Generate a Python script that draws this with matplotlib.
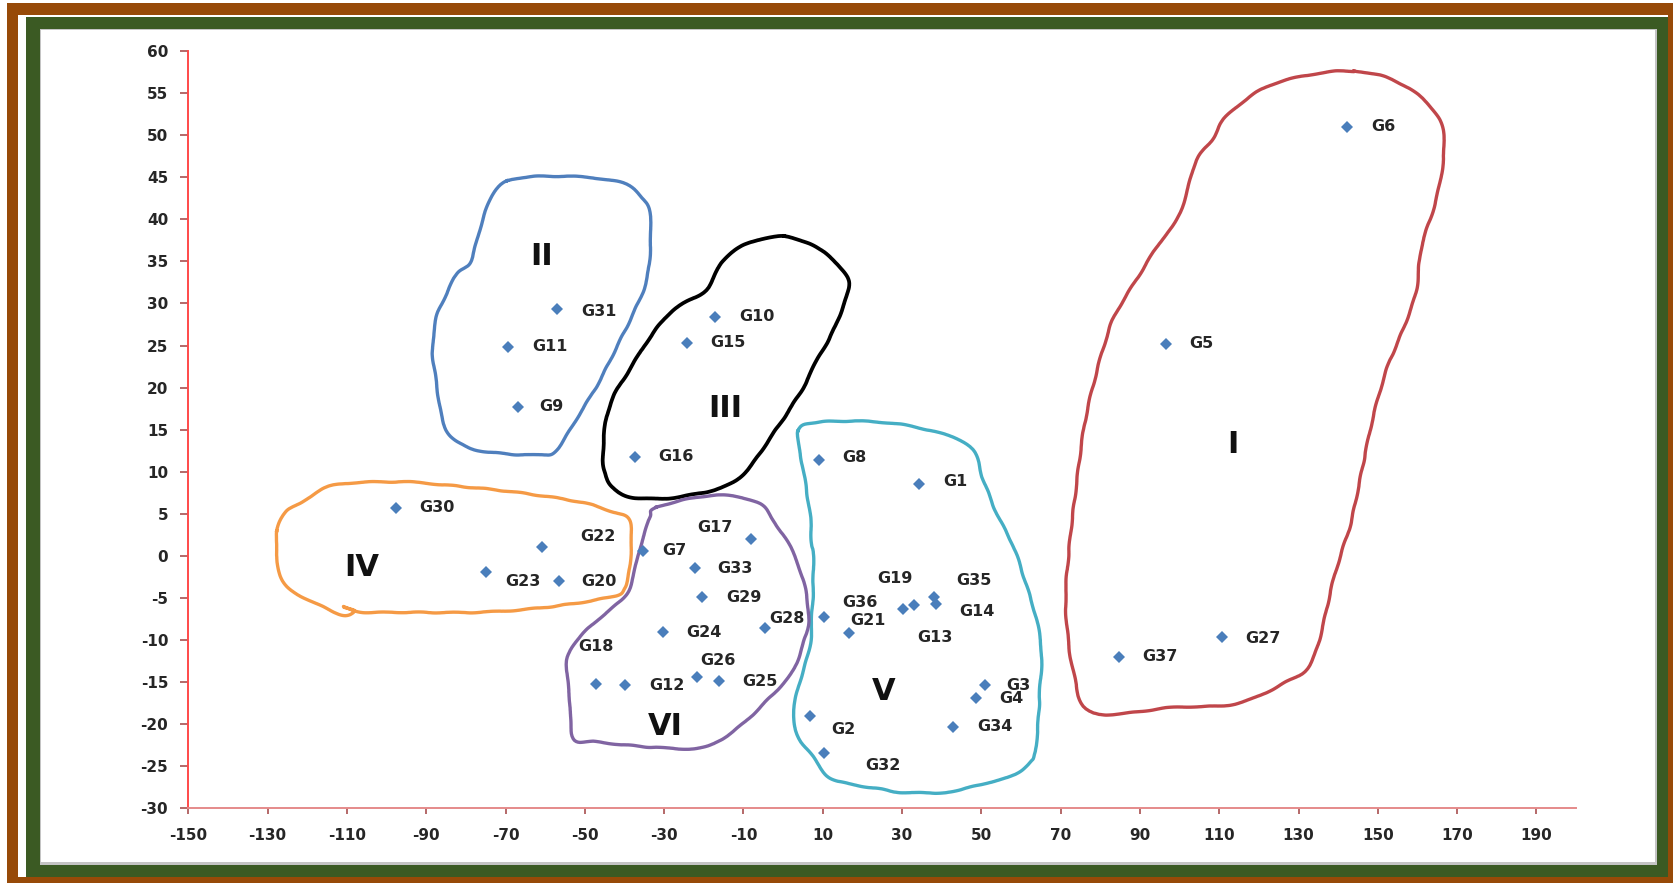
import numpy as np
import matplotlib.pyplot as plt
from matplotlib.patches import Rectangle

plt.rcParams['font.family'] = ['DejaVu Sans']
plt.rcParams['axes.unicode_minus'] = False

# genotype scores on the two axes
genotypes = ['G1', 'G2', 'G3', 'G4', 'G5', 'G6', 'G7', 'G8', 'G9', 'G10',
             'G11', 'G12', 'G13', 'G14', 'G15', 'G16', 'G17', 'G18', 'G19', 'G20',
             'G21', 'G22', 'G23', 'G24', 'G25', 'G26', 'G27', 'G28', 'G29', 'G30',
             'G31', 'G32', 'G33', 'G34', 'G35', 'G36', 'G37']
pc1 = [34.4, 6.8, 50.9, 48.7, 96.5, 142.3, -35.2, 9.1, -66.8, -17.1,
       -69.4, -39.9, 16.7, 38.6, -24.3, -37.4, -8.2, -47.2, 33.0, -56.5,
       10.2, -60.7, -74.9, -30.2, -16.2, -21.8, 110.6, -4.5, -20.5, -97.6,
       -56.9, 10.4, -22.2, 42.8, 38.1, 30.2, 84.8]
pc2 = [8.5, -19.0, -15.4, -16.9, 25.2, 51.0, 0.6, 11.4, 17.7, 28.4,
       24.8, -15.4, -9.2, -5.7, 25.3, 11.8, 2.0, -15.2, -5.8, -3.0,
       -7.3, 1.1, -1.9, -9.1, -14.9, -14.4, -9.7, -8.6, -4.9, 5.7,
       29.3, -23.4, -1.4, -20.3, -4.9, -6.3, -12.0]

# where each point label sits relative to its marker (pixels)
label_offsets = {
    'G1': (36, 3), 'G2': (33, -14), 'G3': (33, 0), 'G4': (35, 0), 'G5': (36, 0),
    'G6': (36, 0), 'G7': (31, 0), 'G8': (35, 2), 'G9': (33, 0), 'G10': (42, 0),
    'G11': (42, 1), 'G12': (42, 0), 'G13': (86, -4), 'G14': (41, -8), 'G15': (41, 0),
    'G16': (41, 0), 'G17': (-36, 12), 'G18': (0, 37), 'G19': (-19, 26), 'G20': (40, 0),
    'G21': (44, -3), 'G22': (56, 10), 'G23': (37, -10), 'G24': (41, 0), 'G25': (41, 0),
    'G26': (21, 17), 'G27': (41, -1), 'G28': (22, 10), 'G29': (42, 0), 'G30': (41, 0),
    'G31': (41, -2), 'G32': (59, -13), 'G33': (40, -1), 'G34': (42, 0), 'G35': (40, 17),
    'G36': (-43, 6), 'G37': (41, 0),
}

# cluster outlines (hand drawn boundaries)
groups = ['I', 'II', 'III', 'IV', 'V', 'VI']
group_colors = ['#c0464a', '#4f7fbd', '#000000', '#f59a45', '#45aec4', '#8064a2']
group_label_x = [113.5, -60.9, -14.5, -106.2, 25.3, -29.8]
group_label_y = [13.2, 35.6, 17.5, -1.4, -16.1, -20.3]

outline_I = [(144, 57.6), (152, 56.9), (159, 55.2), (164, 53), (166.3, 50.9), (166.6, 47.4),
             (164.7, 42.3), (161, 36.7), (159.6, 31.3), (156, 26.5), (152.3, 22.3),
             (148.8, 16.5), (146, 10.2), (143.2, 3.9), (141, 0.7), (138.6, -3.2),
             (133.5, -12.4), (126, -15.2), (114, -17.6), (98.5, -18), (78.3, -18.7),
             (73.5, -14.4), (71.3, -6.4), (72.1, 0.7), (73.8, 7.7), (75.9, 15.3),
             (78.6, 21), (81.6, 26), (84, 28.9), (90, 33.5), (94.8, 37.1), (99.3, 39.9),
             (101.7, 43), (104.2, 47), (108.2, 49.4), (111.7, 52.2), (121.7, 55.7),
             (134.3, 57.3)]
outline_II = [(-69.5, 44.6), (-53.9, 45.1), (-40.3, 44.3), (-35.1, 42.3), (-33.5, 40.3),
              (-33.5, 36.3), (-34.6, 32.4), (-38.2, 28.4), (-42.4, 24.4), (-46.6, 20.5),
              (-51.8, 16.5), (-57.1, 12.6), (-61.2, 12), (-71.7, 12.2), (-80.1, 13),
              (-85.3, 15.3), (-87.4, 20.5), (-88.4, 24.4), (-87.4, 28.4), (-84.8, 31.2),
              (-82.2, 33.6), (-79, 34.8), (-77.4, 37.1), (-74.6, 41.5)]
outline_III = [(0.4, 38), (9.8, 36.3), (14, 34.4), (16.7, 32.4), (15.1, 29.6), (11.9, 26),
               (8.8, 23.6), (5.7, 20.5), (1.5, 17.3), (-3.7, 13.7), (-9, 10.2),
               (-14.4, 8.3), (-22.5, 7.3), (-30.5, 6.8), (-38.6, 7.0), (-43.5, 8.3),
               (-45.1, 10.2), (-45.4, 12.7), (-44.5, 16.5), (-42.4, 19.3), (-38.2, 22.5),
               (-34.1, 25.6), (-27.8, 29.2), (-19.4, 31.6), (-15.2, 35.1), (-9, 37.1)]
outline_IV = [(-127.7, 3.0), (-125.6, 5.2), (-121.8, 6.2), (-113.4, 8.4), (-96.6, 8.8),
              (-84.8, 8.4), (-68, 7.6), (-51.2, 6.4), (-42.8, 5.2), (-39, 4.4),
              (-38.2, 2.2), (-38.8, -1.7), (-39.9, -3.9), (-43.6, -4.9), (-59.6, -6.1),
              (-76.4, -6.7), (-96.6, -6.7), (-105.9, -6.7), (-110.9, -6.05), (-108, -6.5),
              (-110.9, -7.05), (-117.6, -5.7), (-125.2, -3.7), (-127.4, -1.1)]
outline_V = [(3.8, 14.9), (9.3, 15.9), (24.5, 15.9), (37.1, 14.9), (47.2, 13), (50.5, 9),
             (53.9, 5), (58.1, 1.1), (61.5, -3.7), (64, -7.7), (65.2, -11.6), (64.8, -15.6),
             (64.4, -19.5), (63.5, -23.5), (62.5, -24.5), (59.4, -25.7), (54.4, -26.7),
             (48.2, -27.3), (42, -28.1), (29.5, -28.1), (24.4, -27.7), (16.6, -27.1),
             (11.5, -26.3), (7.6, -23.9), (4.3, -21.9), (2.6, -19.5), (3.4, -16.4),
             (5.1, -13.6), (6.8, -10.8), (7.2, -7.7), (7.6, -3.7), (7.6, 0.3), (7.2, 1.5),
             (6.8, 5), (5.1, 10.2)]
outline_VI = [(-31.9, 5.8), (-17.6, 7.2), (-6.6, 6.4), (-2.5, 4.2), (1.8, 1.1), (4.3, -1.7),
              (6, -4.9), (6.4, -8), (5.1, -10.4), (2.6, -13.6), (-0.8, -15.6), (-5.8, -18),
              (-10, -19.9), (-15.9, -21.9), (-21.8, -22.9), (-34.4, -22.7), (-47, -22.1),
              (-52.9, -21.7), (-53.7, -17.6), (-54.6, -13.2), (-53.7, -11.2), (-51.2, -9.6),
              (-47, -7.7), (-42.8, -6.1), (-39.4, -4.5), (-37.8, -2.5), (-36.5, 0.3),
              (-35.2, 2.2), (-33.6, 4.6)]
outlines = [outline_I, outline_II, outline_III, outline_IV, outline_V, outline_VI]


def smooth_closed(pts, n=10):
    # closed Catmull-Rom curve through the outline vertices
    p = np.asarray(pts, dtype=float)
    m = len(p)
    t = np.linspace(0, 1, n, endpoint=False)[:, None]
    segs = []
    for i in range(m):
        p0, p1, p2, p3 = p[i - 1], p[i], p[(i + 1) % m], p[(i + 2) % m]
        segs.append(0.5 * (2 * p1 + (p2 - p0) * t
                           + (2 * p0 - 5 * p1 + 4 * p2 - p3) * t ** 2
                           + (3 * p1 - p0 - 3 * p2 + p3) * t ** 3))
    curve = np.vstack(segs)
    return np.vstack([curve, curve[:1]])


W, H = 1674, 883
fig = plt.figure(figsize=(W / 100, H / 100), dpi=100)


def box(x0, y0, x1, y1, color, z):
    fig.add_artist(Rectangle((x0 / W, 1 - y1 / H), (x1 - x0) / W, (y1 - y0) / H,
                             transform=fig.transFigure, facecolor=color,
                             edgecolor='none', zorder=z))


# picture frame
box(7, 3, W + 5, H + 5, '#974a08', -10)
box(18, 15, 1668, 877, 'white', -9)
box(26, 17, 1668, 877, '#3b5a23', -8)
box(40, 29, 1657, 865, '#c4c4c4', -7)
box(41, 30, 1655, 862, 'white', -6)

ax = fig.add_axes([188.3 / W, 1 - 808.3 / H, 1387.8 / W, 757.3 / H])
ax.set_facecolor('none')

for pts, col in zip(outlines, group_colors):
    c = smooth_closed(pts)
    line, = ax.plot(c[:, 0], c[:, 1], color=col, lw=2.4 if col != '#000000' else 2.7,
                    solid_joinstyle='round', zorder=2)
    line.set_sketch_params(0.45, 40, 2)

ax.plot(pc1, pc2, linestyle='none', marker='D', markersize=6.5,
        color='#4a7ebb', markeredgewidth=0, zorder=3)

for name, x, y in zip(genotypes, pc1, pc2):
    ax.annotate(name, (x, y), xytext=label_offsets[name], textcoords='offset pixels',
                ha='center', va='center', fontsize=11.5, fontweight='bold',
                color='#262626', zorder=4)

for g, x, y in zip(groups, group_label_x, group_label_y):
    ax.text(x, y, g, ha='center', va='center', fontsize=22, fontweight='bold',
            color='#111111', zorder=4)

ax.set_xlim(-150, 200)
ax.set_ylim(-30, 60)
ax.set_xticks(np.arange(-150, 191, 20))
ax.set_yticks(np.arange(-30, 61, 5))

for s in ['top', 'right']:
    ax.spines[s].set_visible(False)
ax.spines['left'].set_color('#ff4a4a')
ax.spines['left'].set_linewidth(1.4)
ax.spines['bottom'].set_color('#e58a8a')
ax.spines['bottom'].set_linewidth(1.4)

ax.tick_params(axis='y', direction='out', length=5.5, width=1.1, color='#a04040',
               pad=9, labelsize=11, labelcolor='#262626')
ax.tick_params(axis='x', direction='out', length=4, width=1.1, color='#a04040',
               pad=10, labelsize=11, labelcolor='#262626')
for lab in ax.get_xticklabels() + ax.get_yticklabels():
    lab.set_fontweight('bold')

fig.savefig('out.png', dpi=100)
